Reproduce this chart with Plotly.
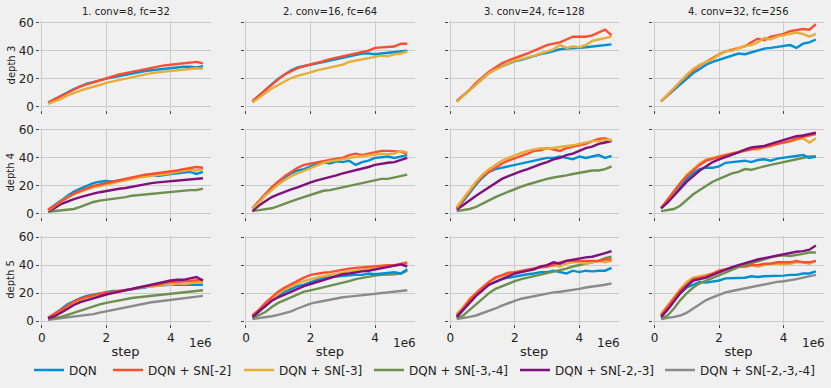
import plotly.graph_objects as go

# steps (x 1e6)
steps = [0.2, 0.4, 0.6, 0.8, 1.0, 1.2, 1.4, 1.6, 1.8, 2.0, 2.2, 2.4, 2.6,
         2.8, 3.0, 3.2, 3.4, 3.6, 3.8, 4.0, 4.2, 4.4, 4.6, 4.8, 5.0]

col_titles = ['1. conv=8, fc=32', '2. conv=16, fc=64', '3. conv=24, fc=128', '4. conv=32, fc=256']
row_titles = ['depth 3', 'depth 4', 'depth 5']
series_names = ['DQN', 'DQN + SN[-2]', 'DQN + SN[-3]', 'DQN + SN[-3,-4]',
                'DQN + SN[-2,-3]', 'DQN + SN[-2,-3,-4]']
colors = ['#008fd5', '#fc4f30', '#e5ae38', '#6d904f', '#810f7c', '#8b8b8b']

# ── depth 3 ──────────────────────────────────────────────────────────────────
d3_c8_dqn = [3, 5.5, 8, 10.5, 12.5, 14.5, 16.5, 17.5, 19, 20, 21, 22, 23, 23.5, 24.5, 25.5, 26, 26.5, 27.5, 27.5, 28, 28.5, 28.5, 28, 29]
d3_c8_sn2 = [3, 5, 7.5, 10, 12.5, 14.5, 16, 17.5, 19, 20.5, 22, 23, 24, 25, 26, 27, 28, 28.5, 29.5, 30, 30.5, 31, 31.5, 32, 31]
d3_c8_sn3 = [2, 3.5, 5.5, 8, 10, 11.5, 13, 14, 15.5, 17, 18, 19, 20, 21.5, 22.5, 23, 24, 24.5, 25, 25.5, 26, 26.5, 27.5, 27.5, 27]

d3_c16_dqn = [4, 8, 12, 16, 20, 23, 26, 28, 29, 30, 31, 32, 33, 34, 35, 36, 37, 38, 38, 37.5, 38, 38.5, 39, 39.5, 40]
d3_c16_sn2 = [4, 8, 12, 16, 19.5, 23, 25.5, 27.5, 29, 30, 31, 32.5, 34, 35, 36, 37, 38, 39, 40, 42, 42.5, 42.5, 43, 45, 45]
d3_c16_sn3 = [3, 6.5, 10, 13, 15.5, 18, 20.5, 22, 23, 24.5, 26, 27, 28.5, 29, 30, 32, 33, 34, 35, 36, 36.5, 36, 37.5, 38, 39.5]

d3_c24_dqn = [4, 8, 12, 16, 20, 24, 27, 29, 31, 32.5, 33.5, 35, 36, 37.5, 38.5, 40, 41, 41.5, 41.5, 42, 42.5, 43, 43.5, 44, 44.5]
d3_c24_sn2 = [4, 8, 12, 17, 21, 25, 28, 31, 33, 34.5, 36, 38, 40, 42, 44, 45, 46, 48, 50, 50, 50, 51, 53, 55, 51]
d3_c24_sn3 = [3.5, 7.5, 11.5, 16, 20, 24, 26.5, 28.5, 31, 33, 34, 35, 36.5, 38, 39.5, 41, 44, 42, 43, 42.5, 44, 47, 48, 49, 50]

d3_c32_dqn = [4, 8, 12, 16, 20, 24, 27, 30, 32, 33.5, 35, 36, 38, 37.5, 39, 40, 41.5, 42, 42.5, 43, 44, 42, 45, 46, 48]
d3_c32_sn2 = [4, 8, 13, 18, 22, 26, 29.5, 32, 35, 37.5, 39.5, 40.5, 42, 43, 46, 48.5, 47.5, 50, 51, 52, 54, 55, 55.5, 55, 59]
d3_c32_sn3 = [4, 8.5, 13, 18, 23, 27, 30, 32, 34, 37, 39.5, 40, 42, 43.5, 44, 46, 49, 48, 50, 51, 51.5, 53, 52, 50, 52]

# ── depth 4 ──────────────────────────────────────────────────────────────────
d4_c8_dqn = [3, 6, 9.5, 13, 16, 18, 20, 22, 23, 23.5, 23, 24, 25, 26, 26.5, 27, 27.5, 27, 28, 28.5, 29, 29.5, 30, 28.5, 30]
d4_c8_sn2 = [3, 6, 9, 12, 14.5, 16.5, 18.5, 20, 21, 22, 23.5, 24.5, 25.5, 26.5, 27, 28, 28.5, 29, 30, 30.5, 31, 32, 33, 33.5, 33]
d4_c8_sn3 = [2.5, 5.5, 9, 12, 14, 16, 17.5, 19, 20, 21.5, 22.5, 23.5, 24.5, 25.5, 26, 26.5, 27, 27.5, 28.5, 29, 30, 30.5, 31.5, 31, 32]
d4_c8_sn34 = [1.5, 2, 2.5, 3, 3.5, 5, 7, 8.5, 9.5, 10, 11, 11.5, 12, 13, 13.5, 14, 14.5, 15, 15.5, 16, 16, 16.5, 17, 17, 18]
d4_c8_sn23 = [2, 4, 7, 9, 10.5, 12, 13.5, 14.5, 15.5, 16.5, 17, 18, 18.5, 19.5, 20.5, 21, 22, 22.5, 23, 23.5, 24, 24.5, 24.5, 25, 25.5]

d4_c16_dqn = [4, 9, 14, 19, 23, 26, 29, 31, 32, 34, 35.5, 37, 36, 37.5, 37, 38, 35, 37, 38, 40, 40.5, 41, 40, 41, 42]
d4_c16_sn2 = [4, 9, 14, 19, 23, 27, 30, 33, 35, 36, 37, 38, 39, 39.5, 40, 42, 43, 42, 43, 44, 45, 45, 45, 44.5, 43]
d4_c16_sn3 = [4, 8, 13, 17, 21, 24, 27, 29, 31, 33, 35, 36.5, 37.5, 38, 39, 40, 40.5, 41, 41.5, 42, 43, 42.5, 43, 45, 44]
d4_c16_sn34 = [2, 2.5, 3, 4, 5.5, 7.5, 9, 10.5, 12, 13.5, 15, 16.5, 17, 18, 19, 20, 21, 22, 23, 24, 25, 25, 26, 27, 28]
d4_c16_sn23 = [2, 6, 9, 12, 14, 16, 17.5, 19, 21, 22.5, 24, 25, 26, 27.5, 29, 30, 31, 32, 33.5, 35, 36, 36.5, 37, 38.5, 40]

d4_c24_dqn = [4, 9, 15, 21, 26, 30, 32, 33, 34, 35.5, 36.5, 37.5, 38, 39, 40, 40, 41, 40, 39, 41, 40, 41, 42, 40, 41.5]
d4_c24_sn2 = [4, 10, 16, 22, 27, 30, 33, 36, 38, 39.5, 41, 43, 45, 45.5, 47, 46, 45, 47, 48, 49, 50, 52, 53.5, 54, 52]
d4_c24_sn3 = [5, 11, 17, 23, 28, 32, 35, 38, 40, 42, 43.5, 45, 46, 47, 46.5, 47, 48, 48.5, 49, 50, 51, 52, 52, 53, 53]
d4_c24_sn34 = [2, 2.5, 3.5, 5, 7.5, 10, 12, 14, 16, 18, 19.5, 21, 22.5, 24, 25, 26, 26.5, 27.5, 28.5, 29.5, 30.5, 31, 31, 32, 34]
d4_c24_sn23 = [3, 6.5, 10, 13, 16, 19, 22, 25, 27, 29, 30.5, 32, 34, 35.5, 37, 39, 40, 42, 43, 45, 47, 48, 50, 51, 52]

d4_c32_dqn = [4, 9, 15, 20, 25, 29, 32, 33, 33, 34, 36.5, 37, 37.5, 38, 37, 38.5, 39, 38, 39.5, 40, 40.5, 41, 42, 40, 41]
d4_c32_sn2 = [4, 10, 16, 22, 27, 31, 35, 38, 39.5, 41, 42, 43, 44, 45, 46, 47, 48, 49, 50, 51, 52, 54, 55, 56, 57]
d4_c32_sn3 = [4, 10, 16, 22, 28, 32, 36, 39, 40, 41, 42, 43.5, 44, 45, 46.5, 46, 47.5, 48, 50, 51, 52, 53, 54, 51, 54]
d4_c32_sn34 = [2, 2.5, 3.5, 6, 10, 14, 17, 20, 23, 25, 27, 29, 30, 32, 31.5, 33, 34, 35, 36, 37, 38, 39.5, 40, 41, 41]
d4_c32_sn23 = [4, 8, 13, 18, 23, 27, 31, 34, 37, 39, 40.5, 42.5, 44, 46, 47.5, 48, 48.5, 50, 51.5, 53, 54, 55.5, 56, 57, 58]

# ── depth 5 ──────────────────────────────────────────────────────────────────
d5_c8_dqn = [2, 5, 8.5, 12, 14.5, 16.5, 18, 19, 20, 21, 21.5, 21.5, 22, 23, 23.5, 24, 25, 25.5, 25.5, 26, 26, 26, 26, 25.5, 26]
d5_c8_sn2 = [2.5, 5, 8, 11, 14, 16, 17.5, 18.5, 19.5, 20.5, 21, 21.5, 22, 23, 24, 25, 25.5, 26, 27, 28, 28, 28.5, 29, 29, 29.5]
d5_c8_sn3 = [2, 4, 7, 10, 12.5, 15, 17, 18, 19.5, 20, 21, 21.5, 22, 23, 24, 24.5, 24.5, 25.5, 26, 26, 27, 26.5, 27, 27.5, 28]
d5_c8_sn34 = [1.5, 2, 3, 4.5, 6, 8, 9.5, 11, 12, 13, 14, 14.5, 15.5, 16.5, 17, 17.5, 18, 18.5, 19, 19.5, 20, 20.5, 21, 21.5, 22]
d5_c8_sn23 = [2, 3.5, 6, 9, 11.5, 13.5, 15, 16.5, 18, 19, 20, 21, 22, 23, 24.5, 25.5, 26.5, 27.5, 28.5, 29, 29.5, 29.5, 30.5, 31.5, 29]
d5_c8_sn234 = [1, 1.5, 2, 2.5, 3, 3.5, 4, 5, 6, 7, 8, 9, 10, 11, 12, 13, 13.5, 14, 14.5, 15, 16, 16.5, 17, 17.5, 18]

d5_c16_dqn = [3, 7, 11, 15, 18, 21, 23, 25, 26, 27.5, 29, 31, 31.5, 32, 32, 32.5, 33, 33, 34, 33.5, 34, 34, 35, 34, 37]
d5_c16_sn2 = [4, 8, 13, 17, 21, 24, 26.5, 28.5, 31, 33, 34, 34.5, 35, 36, 37, 37.5, 38, 38.5, 39, 39.5, 40, 40, 40, 41, 42]
d5_c16_sn3 = [4, 8, 12, 16, 19.5, 22.5, 25, 27, 28.5, 30, 31, 32, 33, 34, 35, 35.5, 36, 37, 37.5, 38, 39, 39, 39.5, 40, 41]
d5_c16_sn34 = [2, 4, 6.5, 10, 13, 15, 17, 19.5, 21, 22, 23, 24, 25, 26, 27.5, 28.5, 30, 31, 32, 32.5, 33, 33, 33.5, 34, 36]
d5_c16_sn23 = [3, 7, 11, 14.5, 17, 19, 21.5, 23, 25, 26.5, 28, 29.5, 31, 32, 33.5, 34, 35, 35.5, 36, 37, 38, 39, 40, 40.5, 39]
d5_c16_sn234 = [1.5, 2, 3, 3.5, 4.5, 5.5, 7, 9, 11, 12.5, 13.5, 14.5, 15.5, 16.5, 17, 17.5, 18, 18.5, 19, 19.5, 20.5, 21, 21, 21.5, 22]

d5_c24_dqn = [3, 8, 14, 19, 23, 26, 28, 30, 31, 32, 33, 33.5, 34, 35, 35, 36, 35, 34, 36, 35, 36, 35.5, 36, 36, 38]
d5_c24_sn2 = [4, 9, 15, 20, 24, 28, 31, 33, 34.5, 35, 36, 37, 38, 38.5, 39, 40, 42, 43, 43, 43, 43.5, 43, 43, 44, 44]
d5_c24_sn3 = [5, 10, 16, 20, 24, 28, 31, 32, 33.5, 35, 36, 37, 38, 38.5, 39, 40, 39, 41, 42, 42, 41, 42, 43, 42, 43]
d5_c24_sn34 = [2, 4, 8, 12, 16, 20, 23, 25, 27, 28.5, 30, 31, 32, 33, 34, 35, 36, 37.5, 39, 40, 41, 42, 43, 45, 46]
d5_c24_sn23 = [3, 8, 13, 18, 22, 26, 28, 30, 32, 34, 35, 36, 37, 39, 40, 42, 41, 43, 44, 45, 45.5, 46, 47, 48.5, 50]
d5_c24_sn234 = [1.5, 2, 3, 4, 5.5, 7, 9, 11, 13, 14.5, 16, 17, 17.5, 18.5, 19.5, 20.5, 21, 21.5, 22.5, 23, 24, 24.5, 25, 26, 27]

d5_c32_dqn = [4, 9, 15, 20, 24, 26, 28, 27.5, 28, 29, 30.5, 30.5, 31, 31, 32, 31.5, 32, 32, 32.5, 32.5, 33, 33, 34, 34, 35.5]
d5_c32_sn2 = [4, 10, 16, 22, 26, 30, 31, 32, 34, 36, 37, 38, 39, 39, 40, 40, 41, 41, 42, 42, 42, 43, 42, 42, 43]
d5_c32_sn3 = [5, 11, 17, 23, 28, 31, 32, 33, 34, 36, 37, 38, 39, 39, 40, 39, 40, 41, 41, 40.5, 41, 42, 42, 41, 43]
d5_c32_sn34 = [2, 4, 9, 15, 20, 24, 27, 29, 31, 33, 35, 37, 38.5, 40, 41.5, 43, 44.5, 45.5, 46.5, 47, 46.5, 47, 48, 49, 49]
d5_c32_sn23 = [3, 8, 14, 20, 25, 29, 30, 31, 33, 35, 37, 38.5, 40, 41.5, 43, 44, 45, 46, 47, 48, 49, 49.5, 50, 51, 54]
d5_c32_sn234 = [1.5, 2, 3, 4, 6, 9, 12, 15, 17, 19, 20.5, 21.5, 22.5, 23.5, 24.5, 25.5, 26.5, 27, 28, 28.5, 29, 30, 31, 32, 33]

# panels[row][col] -> list of (series index, values), in drawing order
panels = [
    [[(0, d3_c8_dqn), (1, d3_c8_sn2), (2, d3_c8_sn3)],
     [(0, d3_c16_dqn), (1, d3_c16_sn2), (2, d3_c16_sn3)],
     [(0, d3_c24_dqn), (1, d3_c24_sn2), (2, d3_c24_sn3)],
     [(0, d3_c32_dqn), (1, d3_c32_sn2), (2, d3_c32_sn3)]],
    [[(3, d4_c8_sn34), (4, d4_c8_sn23), (0, d4_c8_dqn), (2, d4_c8_sn3), (1, d4_c8_sn2)],
     [(3, d4_c16_sn34), (4, d4_c16_sn23), (0, d4_c16_dqn), (1, d4_c16_sn2), (2, d4_c16_sn3)],
     [(3, d4_c24_sn34), (0, d4_c24_dqn), (4, d4_c24_sn23), (1, d4_c24_sn2), (2, d4_c24_sn3)],
     [(3, d4_c32_sn34), (0, d4_c32_dqn), (2, d4_c32_sn3), (1, d4_c32_sn2), (4, d4_c32_sn23)]],
    [[(5, d5_c8_sn234), (3, d5_c8_sn34), (0, d5_c8_dqn), (2, d5_c8_sn3), (1, d5_c8_sn2), (4, d5_c8_sn23)],
     [(5, d5_c16_sn234), (3, d5_c16_sn34), (0, d5_c16_dqn), (2, d5_c16_sn3), (1, d5_c16_sn2), (4, d5_c16_sn23)],
     [(5, d5_c24_sn234), (0, d5_c24_dqn), (3, d5_c24_sn34), (2, d5_c24_sn3), (1, d5_c24_sn2), (4, d5_c24_sn23)],
     [(5, d5_c32_sn234), (0, d5_c32_dqn), (2, d5_c32_sn3), (1, d5_c32_sn2), (3, d5_c32_sn34), (4, d5_c32_sn23)]],
]

W, H = 831, 388
BG = '#f0f0f0'
FONT = 'DejaVu Sans'
TXT = '#222222'
col_px = [(40.4, 210.7), (244.7, 415.0), (449.0, 619.3), (653.3, 823.6)]
row_px = [(21.3, 109.5), (128.5, 216.7), (235.7, 323.9)]
legend_px = [35, 114, 245, 375, 521, 666]   # left edge of each legend entry

x_vals = [s * 1e6 for s in steps]
fig = go.Figure()
layout = {}
annotations = []
shown = set()

for r in range(3):
    for c in range(4):
        k = r * 4 + c + 1
        xa = 'x' if k == 1 else f'x{k}'
        ya = 'y' if k == 1 else f'y{k}'
        for idx, vals in panels[r][c]:
            fig.add_trace(go.Scatter(
                x=x_vals, y=vals, mode='lines', name=series_names[idx],
                line=dict(color=colors[idx], width=2.4),
                xaxis=xa, yaxis=ya,
                legend='legend' if idx == 0 else f'legend{idx + 1}',
                showlegend=idx not in shown,
            ))
            shown.add(idx)
        x0, x1 = col_px[c]
        y0, y1 = row_px[r]
        layout['xaxis' if k == 1 else f'xaxis{k}'] = dict(
            domain=[x0 / W, x1 / W], anchor=ya, range=[-0.04e6, 5.24e6],
            tickvals=[0, 2e6, 4e6], ticktext=['0', '2', '4'],
            showticklabels=(r == 2), ticks='outside', ticklen=3, tickcolor='#444',
            gridcolor='#cbcbcb', gridwidth=1, zeroline=False, showline=False,
            automargin=False, tickfont=dict(size=12, color=TXT),
            title=dict(text='step' if r == 2 else '', font=dict(size=13, color=TXT), standoff=2),
        )
        layout['yaxis' if k == 1 else f'yaxis{k}'] = dict(
            domain=[1 - y1 / H, 1 - y0 / H], anchor=xa, range=[-2, 61],
            tickvals=[0, 20, 40, 60], showticklabels=(c == 0),
            ticks='outside', ticklen=3, tickcolor='#444',
            gridcolor='#cbcbcb', gridwidth=1, zeroline=False, showline=False,
            automargin=False, tickfont=dict(size=12, color=TXT),
        )
        if r == 2:
            annotations.append(dict(
                text='1e6', x=(x1 + 3) / W, y=1 - 343 / H, xref='paper', yref='paper',
                xanchor='right', yanchor='middle', showarrow=False,
                font=dict(size=12, color=TXT, family=FONT)))

for c, t in enumerate(col_titles):
    x0, x1 = col_px[c]
    annotations.append(dict(
        text=t, x=(x0 + x1) / 2 / W, y=1 - 11 / H, xref='paper', yref='paper',
        xanchor='center', yanchor='middle', showarrow=False,
        font=dict(size=10, color=TXT, family=FONT)))

for r, t in enumerate(row_titles):
    y0, y1 = row_px[r]
    annotations.append(dict(
        text=t, x=11 / W, y=1 - (y0 + y1) / 2 / H, xref='paper', yref='paper',
        xanchor='center', yanchor='middle', textangle=-90, showarrow=False,
        font=dict(size=10, color=TXT, family=FONT)))

for i, px in enumerate(legend_px):
    layout['legend' if i == 0 else f'legend{i + 1}'] = dict(
        x=(px - 6) / W, xanchor='left', y=1 - 370 / H, yanchor='middle',
        orientation='h', bgcolor='rgba(0,0,0,0)', borderwidth=0,
        font=dict(size=12, color=TXT, family=FONT))

fig.update_layout(
    **layout,
    annotations=annotations,
    width=W, height=H,
    margin=dict(l=0, r=0, t=0, b=0),
    paper_bgcolor=BG, plot_bgcolor=BG,
    font=dict(family=FONT, color=TXT, size=12),
    showlegend=True,
)

# the page body has a default 8px margin; remove it so the figure fills the window
fig.write_html("out.html", config={'displayModeBar': False},
               post_script="document.body.style.margin='0';")
